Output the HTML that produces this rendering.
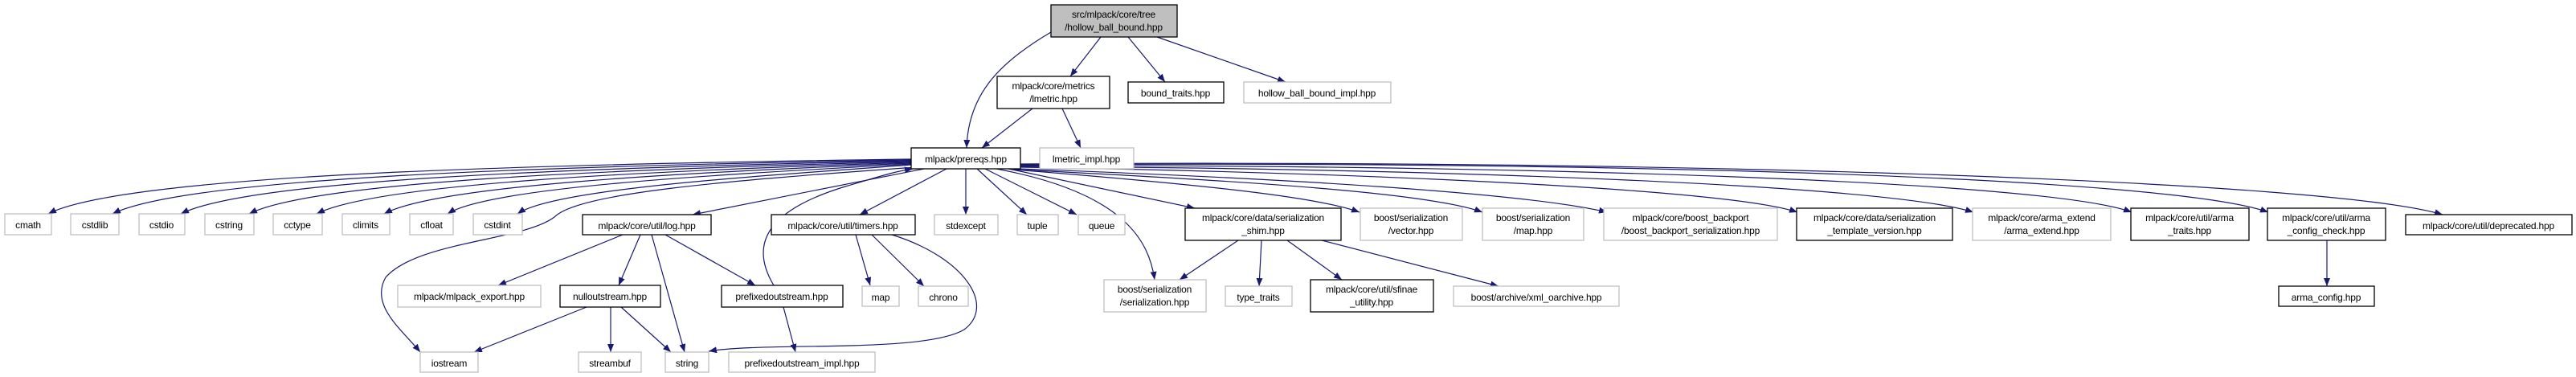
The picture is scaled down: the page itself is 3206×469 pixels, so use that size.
<!DOCTYPE html>
<html><head><meta charset="utf-8"><style>
html,body{margin:0;padding:0;background:#fff;}
svg{display:block;}
text{font-family:"Liberation Sans",sans-serif;font-size:12px;letter-spacing:-0.2px;fill:#000;text-anchor:middle;}
.n{fill:#fff;stroke:#000;stroke-width:1.3;}
.g{fill:#fff;stroke:#bfbfbf;stroke-width:1.3;}
.r{fill:#bfbfbf;stroke:#000;stroke-width:1.3;}
path.e{fill:none;stroke:#191970;stroke-width:1.2;marker-end:url(#a);}
</style></head><body>
<svg width="3206" height="469" viewBox="0 0 3206 469" xmlns="http://www.w3.org/2000/svg">
<defs><marker id="a" markerUnits="userSpaceOnUse" markerWidth="11" markerHeight="8" refX="10" refY="4" orient="auto"><path d="M0,0 L10,4 L0,8 z" fill="#191970"/></marker></defs>
<path class="e" d="M1308,40 C1240,80 1205,120 1203,184"/>
<path class="e" d="M1370,46 L1332,95"/>
<path class="e" d="M1404,46 L1450,102"/>
<path class="e" d="M1440,46 L1600,102"/>
<path class="e" d="M1285,135 L1222,184"/>
<path class="e" d="M1322,135 L1345,184"/>
<path class="e" d="M1202,210 L1202,267"/>
<path class="e" d="M1216,210 L1278,267"/>
<path class="e" d="M1226,210 L1340,267"/>
<path class="e" d="M1240,210 C1400,240 1430,300 1437,348"/>
<path class="e" d="M1255,210 L1487,259"/>
<path class="e" d="M1262,211 C1500,230 1640,245 1692,264"/>
<path class="e" d="M1265,211 C1550,225 1780,240 1845,264"/>
<path class="e" d="M1268,210 C1600,222 1900,240 2000,264"/>
<path class="e" d="M1270,208 C1700,215 2150,235 2237,264"/>
<path class="e" d="M1270,207 C1800,210 2350,230 2456,264"/>
<path class="e" d="M1270,206 C1900,205 2550,225 2653,264"/>
<path class="e" d="M1270,205 C2000,200 2700,220 2823,264"/>
<path class="e" d="M1270,204 C2100,198 2900,225 3040,267"/>
<path class="e" d="M1134,198 C600,205 150,220 60,266"/>
<path class="e" d="M1134,199 C650,207 230,222 140,266"/>
<path class="e" d="M1134,200 C700,209 310,224 225,266"/>
<path class="e" d="M1134,201 C750,211 390,226 310,266"/>
<path class="e" d="M1134,202 C800,213 470,228 394,266"/>
<path class="e" d="M1134,203 C850,215 545,230 478,266"/>
<path class="e" d="M1134,204 C900,217 610,232 557,266"/>
<path class="e" d="M1134,205 C950,219 690,234 644,266"/>
<path class="e" d="M1150,210 L862,267"/>
<path class="e" d="M1178,210 L1070,267"/>
<path class="e" d="M1140,208 C900,225 720,240 690,270 C650,300 520,300 480,345 C460,380 500,410 523,438"/>
<path class="e" d="M1541,299 L1468,348"/>
<path class="e" d="M1570,299 L1567,356"/>
<path class="e" d="M1602,299 L1670,348"/>
<path class="e" d="M1645,299 L1865,356"/>
<path class="e" d="M1065,292 L1083,355"/>
<path class="e" d="M1085,292 L1150,356"/>
<path class="e" d="M1110,292 C1200,320 1240,380 1200,410 C1150,440 950,425 882,437"/>
<path class="e" d="M775,292 L620,355"/>
<path class="e" d="M797,292 L770,355"/>
<path class="e" d="M811,292 L852,438"/>
<path class="e" d="M828,292 L940,355"/>
<path class="e" d="M730,382 L590,438"/>
<path class="e" d="M760,382 L760,438"/>
<path class="e" d="M773,382 L835,438"/>
<path class="e" d="M975,382 L990,438"/>
<path class="e" d="M963,355 C930,300 960,260 1052,232 C1100,218 1115,213 1136,210"/>
<path class="e" d="M2896,299 L2896,356"/>
<rect class="r" x="1308" y="6" width="157" height="40"/><text x="1386" y="22">src/mlpack/core/tree</text><text x="1386" y="38">/hollow_ball_bound.hpp</text>
<rect class="n" x="1241" y="95" width="140" height="40"/><text x="1311" y="111">mlpack/core/metrics</text><text x="1311" y="127">/lmetric.hpp</text>
<rect class="n" x="1404" y="102" width="119" height="26"/><text x="1463" y="120">bound_traits.hpp</text>
<rect class="g" x="1548" y="102" width="183" height="26"/><text x="1639" y="120">hollow_ball_bound_impl.hpp</text>
<rect class="n" x="1134" y="184" width="136" height="26"/><text x="1202" y="202">mlpack/prereqs.hpp</text>
<rect class="g" x="1294" y="184" width="117" height="26"/><text x="1352" y="202">lmetric_impl.hpp</text>
<rect class="g" x="6" y="266" width="58" height="26"/><text x="35" y="284">cmath</text>
<rect class="g" x="88" y="266" width="60" height="26"/><text x="118" y="284">cstdlib</text>
<rect class="g" x="173" y="266" width="57" height="26"/><text x="201" y="284">cstdio</text>
<rect class="g" x="255" y="266" width="61" height="26"/><text x="285" y="284">cstring</text>
<rect class="g" x="340" y="266" width="61" height="26"/><text x="370" y="284">cctype</text>
<rect class="g" x="426" y="266" width="59" height="26"/><text x="455" y="284">climits</text>
<rect class="g" x="510" y="266" width="54" height="26"/><text x="537" y="284">cfloat</text>
<rect class="g" x="589" y="266" width="61" height="26"/><text x="619" y="284">cstdint</text>
<rect class="n" x="725" y="267" width="160" height="25"/><text x="805" y="285">mlpack/core/util/log.hpp</text>
<rect class="n" x="960" y="267" width="179" height="25"/><text x="1049" y="285">mlpack/core/util/timers.hpp</text>
<rect class="g" x="1163" y="267" width="79" height="25"/><text x="1202" y="285">stdexcept</text>
<rect class="g" x="1266" y="267" width="51" height="25"/><text x="1291" y="285">tuple</text>
<rect class="g" x="1342" y="267" width="58" height="25"/><text x="1371" y="285">queue</text>
<rect class="n" x="1475" y="259" width="194" height="40"/><text x="1572" y="275">mlpack/core/data/serialization</text><text x="1572" y="291">_shim.hpp</text>
<rect class="g" x="1693" y="259" width="127" height="40"/><text x="1756" y="275">boost/serialization</text><text x="1756" y="291">/vector.hpp</text>
<rect class="g" x="1845" y="259" width="126" height="40"/><text x="1908" y="275">boost/serialization</text><text x="1908" y="291">/map.hpp</text>
<rect class="g" x="1996" y="259" width="216" height="40"/><text x="2104" y="275">mlpack/core/boost_backport</text><text x="2104" y="291">/boost_backport_serialization.hpp</text>
<rect class="n" x="2236" y="259" width="194" height="40"/><text x="2333" y="275">mlpack/core/data/serialization</text><text x="2333" y="291">_template_version.hpp</text>
<rect class="g" x="2455" y="259" width="172" height="40"/><text x="2541" y="275">mlpack/core/arma_extend</text><text x="2541" y="291">/arma_extend.hpp</text>
<rect class="n" x="2652" y="259" width="147" height="40"/><text x="2725" y="275">mlpack/core/util/arma</text><text x="2725" y="291">_traits.hpp</text>
<rect class="n" x="2822" y="259" width="147" height="40"/><text x="2895" y="275">mlpack/core/util/arma</text><text x="2895" y="291">_config_check.hpp</text>
<rect class="n" x="2994" y="267" width="207" height="25"/><text x="3097" y="285">mlpack/core/util/deprecated.hpp</text>
<rect class="g" x="495" y="355" width="178" height="27"/><text x="584" y="373">mlpack/mlpack_export.hpp</text>
<rect class="n" x="697" y="355" width="125" height="27"/><text x="759" y="373">nulloutstream.hpp</text>
<rect class="n" x="898" y="355" width="151" height="27"/><text x="973" y="373">prefixedoutstream.hpp</text>
<rect class="g" x="1073" y="356" width="46" height="25"/><text x="1096" y="374">map</text>
<rect class="g" x="1143" y="356" width="62" height="25"/><text x="1174" y="374">chrono</text>
<rect class="g" x="1374" y="348" width="127" height="40"/><text x="1437" y="364">boost/serialization</text><text x="1437" y="380">/serialization.hpp</text>
<rect class="g" x="1525" y="356" width="83" height="25"/><text x="1566" y="374">type_traits</text>
<rect class="n" x="1631" y="348" width="153" height="40"/><text x="1707" y="364">mlpack/core/util/sfinae</text><text x="1707" y="380">_utility.hpp</text>
<rect class="g" x="1809" y="356" width="206" height="25"/><text x="1912" y="374">boost/archive/xml_oarchive.hpp</text>
<rect class="n" x="2836" y="356" width="119" height="25"/><text x="2895" y="374">arma_config.hpp</text>
<rect class="g" x="523" y="438" width="72" height="25"/><text x="559" y="456">iostream</text>
<rect class="g" x="720" y="438" width="78" height="25"/><text x="759" y="456">streambuf</text>
<rect class="g" x="828" y="438" width="54" height="25"/><text x="855" y="456">string</text>
<rect class="g" x="907" y="438" width="182" height="25"/><text x="998" y="456">prefixedoutstream_impl.hpp</text>
</svg>
</body></html>
